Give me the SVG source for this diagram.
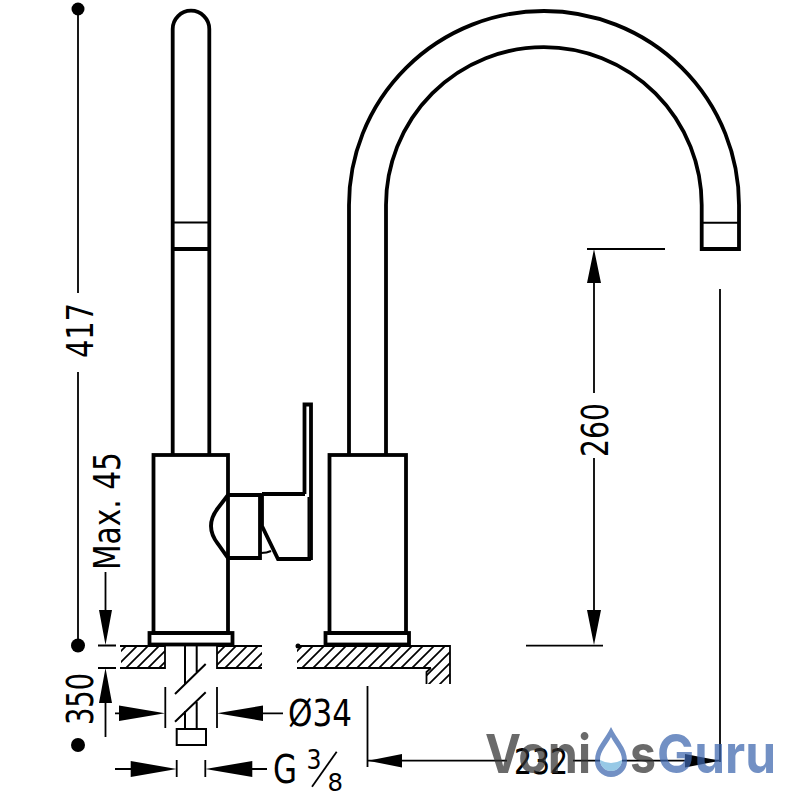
<svg xmlns="http://www.w3.org/2000/svg" width="800" height="800" viewBox="0 0 800 800">
<style>
.k{fill:none;stroke:#000;stroke-width:3.800}
.m{fill:none;stroke:#000;stroke-width:2}
.d{fill:none;stroke:#000;stroke-width:1.800}
.a{fill:#000;stroke:none}
.t{font-family:"DejaVu Sans",Verdana,sans-serif;fill:#000}
.w{font-family:"Inter","Liberation Sans",sans-serif;font-weight:700;font-size:54px}
</style>
<defs>
<pattern id="h" width="11" height="11" patternUnits="userSpaceOnUse" patternTransform="translate(0 2)">
<path d="M-1 12L12 -1M-3 3L3 -3M8 14L14 8" stroke="#000" stroke-width="1.700" fill="none"/>
</pattern>
</defs>
<rect width="800" height="800" fill="#fff"/>
<g id="counter">
<path d="M121 646H165V668H121Z" fill="url(#h)"/>
<path d="M217 646H262V668H217Z" fill="url(#h)"/>
<path d="M297 646H450V684H426V668H297Z" fill="url(#h)"/>
<path class="d" d="M120 646H165V668H120M262 646H217V668H262M297 646H450V684M426.500 684V672L431 668M297 668H431"/>
<circle cx="298" cy="646" r="2.500"/>
</g>
<g id="side-pipe">
<path class="k" d="M172.700 455V29A18.300 18.300 0 0 1 209.300 29V455"/>
<path class="m" d="M173 222.500H209"/>
<path class="k" d="M173 249H209"/>
</g>
<g id="side-body"><rect class="k" x="153.500" y="455" width="74.500" height="178"/>
<rect class="k" x="149.500" y="633" width="83" height="11.500" fill="#fff"/></g>
<g id="handle">
<path class="k" d="M228 495H260V558H228L218 544Q204 526 218 508Z" fill="#fff"/>
<path class="k" d="M262 494H305M262 494V526L278 559H311"/>
<path class="m" d="M261 553Q267 553 271 551" stroke-width="3"/>
<path class="m" d="M308.500 497V557" stroke="#555" stroke-width="3"/>
<path class="k" d="M304.500 494V404.500H311V560"/>
</g>
<g id="spout">
<path class="k" d="M349 455V205A195 194 0 0 1 739 205V249H701.700V205A157.850 158 0 0 0 386 205V455"/>
<path class="m" d="M702 222.700H738"/>
</g>
<g id="main-body"><rect class="k" x="329.500" y="455" width="76.500" height="178"/>
<rect class="k" x="325.500" y="633" width="83.500" height="11.500" fill="#fff"/></g>
<g id="supply">
<path class="m" d="M185 646V684M185 711V729M196.700 646V672M196.700 702V729M175 694L205.700 664M175 721.700L205.700 692.300"/>
<rect class="m" x="176.700" y="729" width="29.300" height="16"/>
</g>
<g id="connectors">
<path class="d" d="M78 10V293M78 372V645"/>
<circle cx="78" cy="9" r="6.500"/><circle cx="78" cy="645.500" r="7"/><circle cx="78" cy="745" r="7"/>
<path class="d" d="M105.500 572V612M98 645.500H116M98 668H116M105.500 700V737"/>
<path class="a" d="M105.500 645L99 610H112Z M105.500 668L99 703H112Z"/>
<path class="d" d="M165.300 687V728M217 687V728M115 713.300H120M262 713.300H283"/>
<path class="a" d="M165 713.300L119 705.500V721Z M217 713.300L263 705.500V721Z"/>
<path class="d" d="M176.700 760V777M205.300 760V777M115 769H131M252 769H267"/>
<path class="a" d="M176.700 769L130.700 761V777Z M205.300 769L252.300 761V777Z"/>
<path class="d" d="M312 786.700L336.700 751.700"/>
<path class="d" d="M587 249H665M594 283V393M594 458V610M526 645.700H603M720 289V762M367.500 686V767M368 760.700H507M573 760.700H720"/>
<path class="a" d="M594 249L587 283H601Z M594 645L587 610H601Z M368 760.700L402 754V767.500Z M720 760.700L685 754V767.500Z"/>
</g>
<g id="labels">
<text class="t" transform="translate(93 358) rotate(-90)" font-size="38" textLength="55" lengthAdjust="spacingAndGlyphs">417</text>
<text class="t" transform="translate(120 570) rotate(-90)" font-size="38" textLength="118" lengthAdjust="spacingAndGlyphs">Max. 45</text>
<text class="t" transform="translate(93 725) rotate(-90)" font-size="38" textLength="52" lengthAdjust="spacingAndGlyphs">350</text>
<text class="t" transform="translate(608 457) rotate(-90)" font-size="38" textLength="54" lengthAdjust="spacingAndGlyphs">260</text>
<text class="t" x="288" y="726" font-size="38" textLength="64" lengthAdjust="spacingAndGlyphs">Ø34</text>
<text class="t" x="273" y="782.700" font-size="39" textLength="24" lengthAdjust="spacingAndGlyphs">G</text>
<text class="t" x="306.500" y="769" font-size="27" textLength="15" lengthAdjust="spacingAndGlyphs">3</text>
<text class="t" x="327.500" y="791" font-size="25" textLength="15.500" lengthAdjust="spacingAndGlyphs">8</text>
<text class="t" x="514" y="774" font-size="36" textLength="54" lengthAdjust="spacingAndGlyphs">232</text>
</g>
<g id="watermark" fill-opacity=".72">
<text class="w" x="485" y="772.700" fill="#303030" textLength="106" lengthAdjust="spacingAndGlyphs">Voni</text>
<path d="M611 727C617 740 627 747 627 761A16 16 0 0 1 595 761C595 747 605 740 611 727Z" fill="#3c65ad"/>
<path d="M611 737C615 745 622 751 622 760A11 11 0 0 1 600 760C600 751 607 745 611 737Z" fill="#fff" fill-opacity="1"/>
<path d="M600 760Q611 766 622 760A11 11 0 0 1 600 760Z" fill="#6fb4dc"/>
<text class="w" x="630" y="772.700" fill="#303030" textLength="26" lengthAdjust="spacingAndGlyphs">s</text>
<text class="w" x="657" y="772.700" fill="#3c65ad" textLength="119" lengthAdjust="spacingAndGlyphs">Guru</text>
</g>
</svg>
